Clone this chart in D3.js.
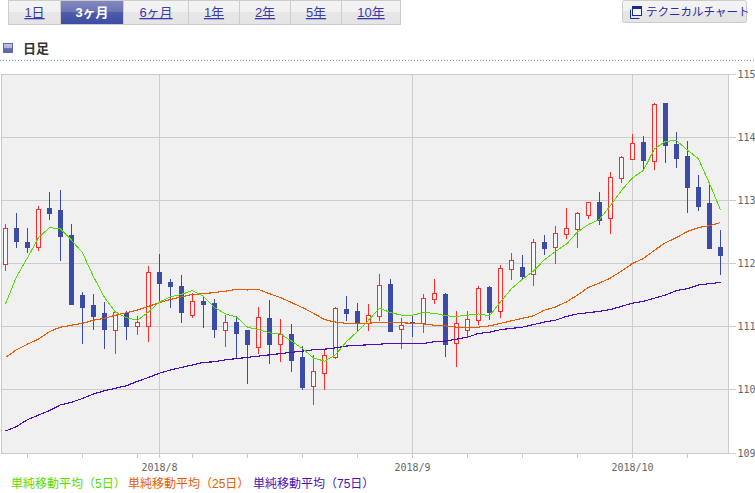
<!DOCTYPE html>
<html>
<head>
<meta charset="utf-8">
<script src="https://cdn.jsdelivr.net/npm/d3@7"></script>
<style>
  html, body { margin: 0; padding: 0; background: #fff; }
  svg { display: block; font-family: "Liberation Sans", "Noto Sans CJK JP", sans-serif; }
  .axis text { font-family: "DejaVu Sans Mono", monospace; font-size: 10px; fill: #666; }
  .axis line { stroke: #ccc; shape-rendering: crispEdges; }
  .axis path { display: none; }
  .wick, .body { shape-rendering: crispEdges; }
  .ma { fill: none; shape-rendering: crispEdges; }
</style>
</head>
<body>
<svg id="chart" width="755" height="493"></svg>
<script>
// Period tabs
var tabLabels = ['1日', '3ヶ月', '6ヶ月', '1年', '2年', '5年', '10年'];
var activeTab = '3ヶ月';

// Price axis and month / week ticks (index into the daily series)
var priceTicks = [109, 110, 111, 112, 113, 114, 115];
var monthIndex = [14, 37, 57];
var monthLabels = ['2018/8', '2018/9', '2018/10'];
var weekIndex = [2, 7, 12, 17, 22, 27, 32, 37, 42, 47, 52, 57, 62];

// Daily candles, 2018/7/12 to 2018/10/11
var opens = [
  111.98, 112.55, 112.34, 112.25, 112.88, 112.84, 112.45, 111.50, 111.34, 111.20, 110.94,
  111.21, 111.01, 111.01, 111.86, 111.70, 111.64, 111.18, 111.39, 111.37, 110.95, 111.07,
  110.93, 110.67, 111.13, 110.72, 110.88, 110.51, 110.04, 110.26, 110.52, 111.27, 111.24,
  111.05, 111.16, 111.67, 110.95, 111.06, 111.04, 111.43, 111.51, 110.72, 110.94, 111.10,
  111.62, 111.24, 111.89, 111.94, 111.83, 112.34, 112.25, 112.46, 112.54, 112.77, 112.97,
  112.71, 113.35, 113.66, 113.92, 113.63, 114.54, 113.89, 113.70, 113.21, 112.95, 112.26
];
var highs = [
  112.62, 112.80, 112.56, 112.92, 113.13, 113.16, 112.62, 111.54, 111.51, 111.39, 111.23,
  111.24, 111.17, 111.96, 112.15, 111.75, 111.81, 111.53, 111.47, 111.43, 111.18, 111.17,
  110.94, 111.31, 111.42, 111.12, 111.04, 110.69, 110.55, 110.62, 111.31, 111.48, 111.37,
  111.36, 111.83, 111.75, 111.13, 111.17, 111.52, 111.75, 111.53, 111.25, 111.25, 111.64,
  111.64, 111.98, 112.16, 112.13, 112.39, 112.45, 112.59, 112.88, 112.82, 112.97, 113.13,
  113.46, 113.70, 114.06, 114.02, 114.55, 114.55, 114.09, 113.95, 113.40, 113.29, 112.53
];
var lows = [
  111.88, 112.24, 112.17, 112.20, 112.69, 112.04, 111.36, 110.73, 110.95, 110.65, 110.57,
  110.78, 110.87, 110.75, 111.39, 111.30, 111.06, 111.14, 110.98, 110.81, 110.68, 110.48,
  110.09, 110.56, 110.40, 110.44, 110.28, 110.00, 109.76, 110.00, 110.49, 111.09, 110.91,
  110.93, 111.09, 110.91, 110.64, 110.84, 110.89, 111.36, 110.51, 110.36, 110.83, 111.02,
  111.11, 111.14, 111.74, 111.74, 111.65, 112.13, 112.00, 112.39, 112.25, 112.70, 112.61,
  112.47, 113.28, 113.65, 113.49, 113.49, 113.60, 113.52, 112.80, 112.84, 112.23, 111.81
];
var closes = [
  112.55, 112.34, 112.26, 112.85, 112.80, 112.42, 111.36, 111.31, 111.17, 110.95, 111.22,
  111.01, 111.07, 111.86, 111.69, 111.63, 111.23, 111.40, 111.34, 110.95, 111.07, 110.90,
  110.70, 111.14, 110.71, 110.88, 110.47, 110.03, 110.28, 110.54, 111.29, 111.20, 111.05,
  111.18, 111.65, 110.93, 111.02, 111.05, 111.44, 111.52, 110.71, 111.04, 111.11, 111.61,
  111.23, 111.92, 112.04, 111.80, 112.34, 112.25, 112.47, 112.55, 112.79, 112.97, 112.69,
  113.36, 113.68, 113.91, 113.64, 114.53, 113.88, 113.67, 113.21, 112.91, 112.24, 112.14
];

// Moving averages
var ma5 = [
  111.36, 111.79, 112.09, 112.41, 112.57, 112.55, 112.37, 112.17, 111.79, 111.46, 111.23,
  111.14, 111.10, 111.23, 111.39, 111.47, 111.51, 111.57, 111.48, 111.30, 111.20, 111.15,
  110.99, 110.95, 110.90, 110.88, 110.77, 110.65, 110.50, 110.45, 110.55, 110.76, 110.92,
  111.10, 111.29, 111.22, 111.18, 111.18, 111.22, 111.21, 111.17, 111.16, 111.18, 111.20,
  111.17, 111.39, 111.60, 111.75, 111.88, 112.06, 112.19, 112.31, 112.50, 112.62, 112.70,
  112.92, 113.16, 113.36, 113.48, 113.82, 113.94, 113.95, 113.80, 113.66, 113.27, 112.85
];
var ma25 = [
  110.51, 110.63, 110.72, 110.80, 110.92, 110.99, 111.02, 111.05, 111.10, 111.13, 111.18,
  111.22, 111.26, 111.32, 111.38, 111.43, 111.47, 111.51, 111.52, 111.54, 111.56, 111.59,
  111.58, 111.59, 111.52, 111.46, 111.38, 111.30, 111.21, 111.11, 111.07, 111.05, 111.05,
  111.05, 111.07, 111.07, 111.06, 111.05, 111.04, 111.02, 111.01, 110.99, 110.99, 110.99,
  111.01, 111.05, 111.09, 111.13, 111.17, 111.26, 111.31, 111.39, 111.50, 111.62, 111.69,
  111.77, 111.88, 112.00, 112.08, 112.21, 112.33, 112.41, 112.51, 112.57, 112.60, 112.65
];
var ma75 = [
  109.35, 109.42, 109.53, 109.60, 109.67, 109.76, 109.80, 109.86, 109.93, 109.98, 110.02,
  110.06, 110.13, 110.19, 110.26, 110.31, 110.35, 110.39, 110.43, 110.44, 110.47, 110.49,
  110.51, 110.53, 110.55, 110.57, 110.59, 110.61, 110.63, 110.64, 110.66, 110.69, 110.70,
  110.71, 110.72, 110.73, 110.73, 110.73, 110.73, 110.76, 110.77, 110.80, 110.83, 110.89,
  110.91, 110.95, 110.97, 110.99, 111.03, 111.07, 111.10, 111.16, 111.20, 111.22, 111.24,
  111.27, 111.32, 111.37, 111.40, 111.45, 111.50, 111.57, 111.60, 111.66, 111.68, 111.70
];

var legendLabels = ['単純移動平均（5日）', '単純移動平均（25日）', '単純移動平均（75日）'];

var RED = '#ff2b2b', BLUE = '#3c4ba6';
var MA_COLOR = ['#55dd00', '#e65c00', '#4a0fb5'];
var PLOT = { left: 1.5, right: 728.5, top: 74.5, bottom: 453.5 };

var svg = d3.select('#chart');
var defs = svg.append('defs');

function hardGradient(id, top1, top2, bottom1, bottom2) {
  var g = defs.append('linearGradient').attr('id', id).attr('x1', 0).attr('y1', 0).attr('x2', 0).attr('y2', 1);
  [[0, top1], [0.5, top2], [0.5, bottom1], [1, bottom2]].forEach(function (s) {
    g.append('stop').attr('offset', s[0]).attr('stop-color', s[1]);
  });
}
hardGradient('tab-off', '#f3f3f3', '#f1f1f1', '#e7e7e7', '#e4e4e4');
hardGradient('tab-on', '#8389bf', '#6a72b3', '#4f5cab', '#3c4ba3');
hardGradient('btn', '#f3f3f3', '#f1f1f1', '#e6e6e6', '#e4e4e4');
hardGradient('bullet', '#c3c7e2', '#aeb3d8', '#6a74b4', '#5560a8');

// ── Header ──────────────────────────────────────────────────────────────────

var tabEdges = [8, 60, 123, 188, 239, 290, 341, 400];

var tabs = svg.append('g').selectAll('g').data(tabLabels).join('g');
tabs.append('rect')
  .attr('x', function (d, i) { return tabEdges[i] + 0.5; })
  .attr('y', 0.5)
  .attr('width', function (d, i) { return tabEdges[i + 1] - tabEdges[i]; })
  .attr('height', 24)
  .attr('fill', function (d) { return d === activeTab ? 'url(#tab-on)' : 'url(#tab-off)'; })
  .attr('stroke', '#ccc')
  .style('shape-rendering', 'crispEdges');
tabs.append('text')
  .attr('x', function (d, i) { return (tabEdges[i] + tabEdges[i + 1]) / 2 + 0.5; })
  .attr('y', 17)
  .attr('text-anchor', 'middle')
  .attr('font-size', 13)
  .attr('font-weight', function (d) { return d === activeTab ? 'bold' : 'normal'; })
  .attr('fill', function (d) { return d === activeTab ? '#fff' : '#3b3bb0'; })
  .style('text-decoration', function (d) { return d === activeTab ? 'none' : 'underline'; })
  .text(function (d) { return d; });

// Technical chart button
var btn = svg.append('g');
btn.append('rect').attr('x', 622.5).attr('y', 0.5).attr('width', 124).attr('height', 22).attr('rx', 2)
  .attr('fill', 'url(#btn)').attr('stroke', '#ccc');
btn.append('path').attr('d', 'M630.5 9.5V18.5H639.5').attr('fill', 'none').attr('stroke', '#1c2a8c');
btn.append('rect').attr('x', 632.5).attr('y', 6.5).attr('width', 9).attr('height', 9)
  .attr('fill', '#f4f4f4').attr('stroke', '#1c2a8c');
btn.append('rect').attr('x', 632.5).attr('y', 6.5).attr('width', 9).attr('height', 2.5).attr('fill', '#1c2a8c');
btn.append('text').attr('x', 646).attr('y', 16).attr('font-size', 11.5).attr('fill', '#2a2aa6')
  .text('テクニカルチャート');

// Section title
svg.append('rect').attr('x', 3.5).attr('y', 43.5).attr('width', 9).attr('height', 9)
  .attr('fill', 'url(#bullet)').attr('stroke', '#5f6ab0');
svg.append('text').attr('x', 23).attr('y', 52.5).attr('font-size', 13).attr('font-weight', 'bold')
  .attr('fill', '#333').text('日足');
svg.append('line').attr('x1', 0).attr('x2', 755).attr('y1', 60.5).attr('y2', 60.5)
  .attr('stroke', '#7c8cd0').attr('stroke-dasharray', '1,2');

// ── Plot ────────────────────────────────────────────────────────────────────

var x = d3.scaleLinear().domain([0, closes.length - 1]).range([5.5, 720.5]);
var y = d3.scaleLinear().domain([109, 110, 115]).range([PLOT.bottom, 389.5, PLOT.top]);

svg.append('rect')
  .attr('x', PLOT.left).attr('y', PLOT.top)
  .attr('width', PLOT.right - PLOT.left).attr('height', PLOT.bottom - PLOT.top)
  .attr('fill', '#f0f0f0').attr('stroke', '#ccc')
  .style('shape-rendering', 'crispEdges');

// Grid lines
svg.append('g').attr('class', 'axis')
  .attr('transform', 'translate(' + PLOT.right + ',0)')
  .call(d3.axisRight(y).offset(0).tickValues(priceTicks).tickSize(PLOT.left - PLOT.right).tickFormat(''));
svg.append('g').attr('class', 'axis')
  .attr('transform', 'translate(0,' + PLOT.bottom + ')')
  .call(d3.axisBottom(x).offset(0).tickValues(monthIndex).tickSize(PLOT.top - PLOT.bottom).tickFormat(''));

// Outer ticks and labels
svg.append('g').attr('class', 'axis')
  .attr('transform', 'translate(' + PLOT.right + ',0)')
  .call(d3.axisRight(y).offset(0).tickValues(priceTicks).tickSize(7).tickPadding(2).tickFormat(d3.format('d')));
svg.append('g').attr('class', 'axis')
  .attr('transform', 'translate(0,' + PLOT.bottom + ')')
  .call(d3.axisBottom(x).offset(0).tickValues(weekIndex.concat(monthIndex)).tickSize(4).tickFormat(''));
svg.append('g').attr('class', 'axis')
  .attr('transform', 'translate(0,' + PLOT.bottom + ')')
  .call(d3.axisBottom(x).offset(0).tickValues(monthIndex).tickSize(0).tickPadding(10)
    .tickFormat(function (d, i) { return monthLabels[i]; }));

// Candles
var candles = svg.append('g').selectAll('g').data(closes).join('g');

function candleColor(d, i) { return d >= opens[i] ? RED : BLUE; }

candles.append('line')
  .attr('class', 'wick')
  .attr('x1', function (d, i) { return x(i); })
  .attr('x2', function (d, i) { return x(i); })
  .attr('y1', function (d, i) { return y(highs[i]); })
  .attr('y2', function (d, i) { return y(lows[i]); })
  .attr('stroke', candleColor);

candles.append('rect')
  .attr('class', 'body')
  .attr('x', function (d, i) { return x(i) - 2; })
  .attr('width', 4)
  .attr('y', function (d, i) { return Math.round(y(Math.max(d, opens[i])) - 0.5) + 0.5; })
  .attr('height', function (d, i) { return Math.round(Math.abs(y(d) - y(opens[i]))); })
  .attr('fill', function (d, i) { return d >= opens[i] ? '#f6f6f6' : BLUE; })
  .attr('stroke', candleColor);

// Moving averages
var maLine = d3.line()
  .x(function (d, i) { return x(i); })
  .y(function (d) { return y(d); });

[ma75, ma25, ma5].forEach(function (series, k) {
  svg.append('path')
    .attr('class', 'ma')
    .attr('d', maLine(series))
    .attr('stroke', MA_COLOR[2 - k])
    .attr('stroke-width', k === 2 ? 1 : 1.15);
});

// Legend
var legendX = [11, 128, 253];
svg.append('g').selectAll('text').data(legendLabels).join('text')
  .attr('x', function (d, i) { return legendX[i]; })
  .attr('y', 488)
  .attr('font-size', 12)
  .attr('fill', function (d, i) { return MA_COLOR[i]; })
  .text(function (d) { return d; });
</script>
</body>
</html>
